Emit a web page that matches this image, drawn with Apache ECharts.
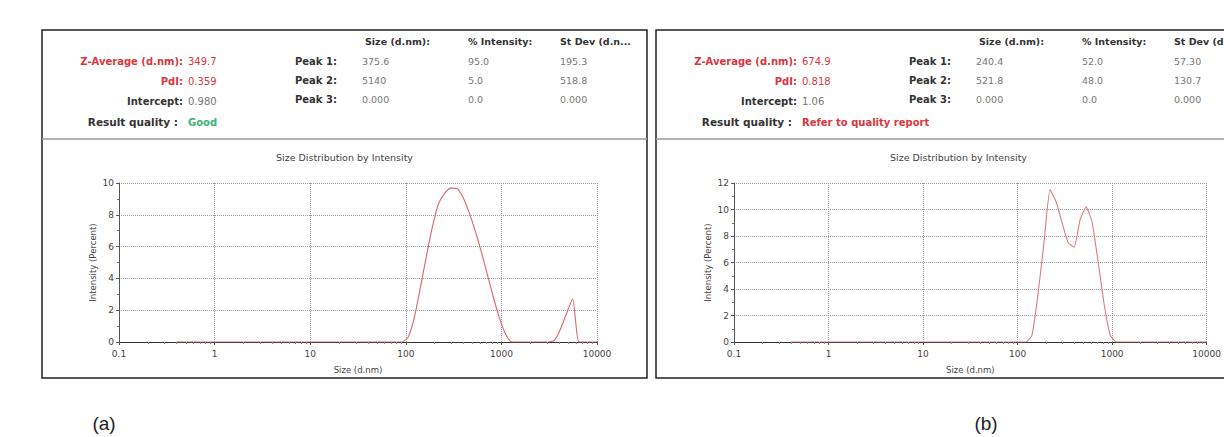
<!DOCTYPE html>
<html><head><meta charset="utf-8">
<script src="https://cdn.jsdelivr.net/npm/echarts@6/dist/echarts.min.js"></script>
<style>html,body{margin:0;padding:0;background:#fff;overflow:hidden}#c{width:1224px;height:437px}</style>
</head><body><div id="c"></div>
<script>
// Size bins (d.nm)
const sizes = [0.4000,0.4632,0.5365,0.6213,0.7195,0.8332,0.9650,1.117,1.294,1.499,
  1.736,2.010,2.328,2.696,3.122,3.615,4.187,4.849,5.615,6.503,
  7.531,8.721,10.10,11.70,13.54,15.69,18.17,21.04,24.36,28.21,
  32.67,37.84,43.82,50.75,58.77,68.06,78.82,91.28,105.7,122.4,
  141.8,164.2,190.1,220.2,255.0,295.3,342.0,396.1,458.7,531.2,
  615.1,712.4,825.0,955.4,1106,1281,1484,1718,1990,2305,
  2669,3091,3580,4145,4801,5560,6439,7456,8635,10000];
// Intensity (%) sample (a)
const intensityA = [0,0,0,0,0,0,0,0,0,0,
  0,0,0,0,0,0,0,0,0,0,
  0,0,0,0,0,0,0,0,0,0,
  0,0,0,0,0,0,0,0,0.3,1.5,
  3.4,5.4,7.25,8.7,9.35,9.68,9.65,9.1,8.15,7.0,
  5.7,4.25,2.8,1.5,0.5,0,0,0,0,0,
  0,0,0.1,0.8,1.8,2.7,0,0,0,0];
// Intensity (%) sample (b)
const intensityB = [0,0,0,0,0,0,0,0,0,0,
  0,0,0,0,0,0,0,0,0,0,
  0,0,0,0,0,0,0,0,0,0,
  0,0,0,0,0,0,0,0,0,0,
  0.5,3.6,7.5,11.5,10.6,9.0,7.5,7.15,9.24,10.2,
  9.0,6.0,2.8,0.5,0,0,0,0,0,0,
  0,0,0,0,0,0,0,0,0,0];
const xTickLabels = ['0.1','1','10','100','1000','10000'];
const yMaxA = 10, yMaxB = 12;

const chartTitle = 'Size Distribution by Intensity';
const xName = 'Size (d.nm)';
const yName = 'Intensity (Percent)';

const summaryLabels = ['Z-Average (d.nm):','PdI:','Intercept:','Result quality :'];
const summaryA = ['349.7','0.359','0.980','Good'];
const summaryB = ['674.9','0.818','1.06','Refer to quality report'];
const peakLabels = ['Peak 1:','Peak 2:','Peak 3:'];
const colHeadsA = ['Size (d.nm):','% Intensity:','St Dev (d.n...'];
const colHeadsB = ['Size (d.nm):','% Intensity:','St Dev (d'];
const peakSizeA = ['375.6','5140','0.000'];
const peakIntA = ['95.0','5.0','0.0'];
const peakSdA = ['195.3','518.8','0.000'];
const peakSizeB = ['240.4','521.8','0.000'];
const peakIntB = ['52.0','48.0','0.0'];
const peakSdB = ['57.30','130.7','0.000'];
const panelLabels = ['(a)','(b)'];

const FF = 'DejaVu Sans';
const RED = '#d9363e', GREY = '#777', DARK = '#333';

function txt(x, y, text, o) {
  o = o || {};
  return {type:'text', x:x, y:y, silent:true, style:{
    text:text, fill:o.fill||DARK, fontSize:o.size||10, fontFamily:o.ff||FF,
    fontWeight:o.weight||'normal', align:o.align||'left', verticalAlign:'middle'}};
}

function panelGraphics(dx, summ, qColor, heads, ps, pi, psd) {
  const g = [];
  g.push({type:'rect', shape:{x:42+dx, y:30, width:605, height:348},
    style:{fill:'none', stroke:'#222', lineWidth:1.5}, silent:true});
  g.push({type:'line', shape:{x1:42+dx, y1:139, x2:647+dx, y2:139},
    style:{stroke:'#999', lineWidth:1.5}, silent:true});
  const rows = [61, 81, 101, 122];
  g.push(txt(183+dx, rows[0], summaryLabels[0], {fill:RED, weight:'bold', align:'right'}));
  g.push(txt(188+dx, rows[0], summ[0], {fill:RED}));
  g.push(txt(183+dx, rows[1], summaryLabels[1], {fill:RED, weight:'bold', align:'right'}));
  g.push(txt(188+dx, rows[1], summ[1], {fill:RED}));
  g.push(txt(183+dx, rows[2], summaryLabels[2], {weight:'bold', align:'right'}));
  g.push(txt(188+dx, rows[2], summ[2], {fill:GREY}));
  g.push(txt(178+dx, rows[3], summaryLabels[3], {weight:'bold', align:'right', size:10.5}));
  g.push(txt(188+dx, rows[3], summ[3], {fill:qColor, weight:'bold'}));
  const prow = [61, 80, 99];
  const cols = [362, 468, 560];
  g.push(txt(365+dx, 41, heads[0], {weight:'bold', size:9.5}));
  g.push(txt(cols[1]+dx, 41, heads[1], {weight:'bold', size:9.5}));
  g.push(txt(cols[2]+dx, 41, heads[2], {weight:'bold', size:9.5}));
  for (let i = 0; i < 3; i++) {
    g.push(txt(295+dx, prow[i], peakLabels[i], {weight:'bold'}));
    g.push(txt(cols[0]+dx, prow[i], ps[i], {fill:GREY, size:9.5}));
    g.push(txt(cols[1]+dx, prow[i], pi[i], {fill:GREY, size:9.5}));
    g.push(txt(cols[2]+dx, prow[i], psd[i], {fill:GREY, size:9.5}));
  }
  g.push(txt(344.5+dx, 157, chartTitle, {fill:'#444', size:9.5, align:'center'}));
  return g;
}

const graphics = [].concat(
  panelGraphics(0, summaryA, '#3cb371', colHeadsA, peakSizeA, peakIntA, peakSdA),
  panelGraphics(614, summaryB, RED, colHeadsB, peakSizeB, peakIntB, peakSdB),
  [txt(104, 423, panelLabels[0], {ff:'Liberation Sans', size:19, fill:'#222', align:'center'}),
   txt(986, 423, panelLabels[1], {ff:'Liberation Sans', size:19, fill:'#222', align:'center'})]
);

function xAxis(gi) {
  return {type:'log', logBase:10, min:0.1, max:10000, gridIndex:gi,
    axisLine:{show:true, onZero:false, lineStyle:{color:'#333', width:1}},
    axisTick:{show:true, length:3, lineStyle:{color:'#555'}},
    minorTick:{show:true, splitNumber:9, length:2, lineStyle:{color:'#888'}},
    axisLabel:{formatter:function(v, i){ return xTickLabels[i]; }, fontSize:9, color:'#444', margin:7, fontFamily:FF},
    splitLine:{show:true, lineStyle:{type:'dotted', color:'#999', width:1}},
    minorSplitLine:{show:false},
    name:xName, nameLocation:'middle', nameGap:23,
    nameTextStyle:{fontSize:8.5, color:'#444', fontFamily:FF}};
}
function yAxis(gi, max) {
  return {type:'value', min:0, max:max, interval:2, gridIndex:gi,
    axisLine:{show:true, lineStyle:{color:'#555', width:1}},
    axisTick:{show:true, length:3, lineStyle:{color:'#555'}},
    minorTick:{show:true, splitNumber:2, length:2, lineStyle:{color:'#777'}},
    axisLabel:{fontSize:9, color:'#444', margin:5, fontFamily:FF},
    splitLine:{show:true, lineStyle:{type:'dotted', color:'#999', width:1}},
    name:yName, nameLocation:'middle', nameGap:22, nameRotate:90,
    nameTextStyle:{fontSize:8.5, color:'#444', fontFamily:FF}};
}

const chart = echarts.init(document.getElementById('c'), null, {renderer:'svg'});
chart.setOption({
  animation:false,
  backgroundColor:'#fff',
  grid:[
    {left:119, right:1224-597, top:183, bottom:437-342, containLabel:false},
    {left:734, right:1224-1209, top:183, bottom:437-342, containLabel:false}
  ],
  xAxis:[xAxis(0), xAxis(1)],
  yAxis:[yAxis(0, yMaxA), yAxis(1, yMaxB)],
  series:[
    {type:'line', xAxisIndex:0, yAxisIndex:0, showSymbol:false, smooth:0.2,
     lineStyle:{color:'#dd6464', width:1.1}, data:sizes.map((s,i)=>[s, intensityA[i]])},
    {type:'line', xAxisIndex:1, yAxisIndex:1, showSymbol:false, smooth:0.15,
     lineStyle:{color:'#e07a7a', width:1.1}, data:sizes.map((s,i)=>[s, intensityB[i]])}
  ],
  graphic:graphics
});
</script></body></html>
